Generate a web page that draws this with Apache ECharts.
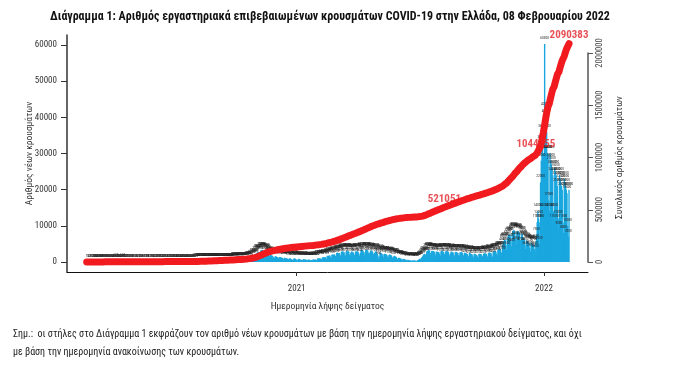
<!DOCTYPE html>
<html><head><meta charset="utf-8">
<script src="https://cdn.jsdelivr.net/npm/echarts@6/dist/echarts.min.js"></script>
<style>html,body{margin:0;padding:0;background:#fff}#c{width:695px;height:375px}</style>
</head><body><div id="c"></div>
<script>
// ---- data ----
const monthStarts = ['2020-02-26','2020-03-01','2020-04-01','2020-05-01','2020-06-01','2020-07-01','2020-08-01','2020-09-01','2020-10-01','2020-11-01','2020-12-01',
  '2021-01-01','2021-02-01','2021-03-01','2021-04-01','2021-05-01','2021-06-01','2021-07-01','2021-08-01','2021-09-01','2021-10-01','2021-11-01','2021-12-01',
  '2022-01-01','2022-02-01'];
const dailyCases2020 = [
  [1,1,1,4],
  [2,3,5,10,12,15,20,18,25,30,35,40,45,55,60,70,75,80,85,90,80,85,95,90,75,70,80,70,65,60,55],
  [60,55,70,50,45,40,60,80,120,50,45,40,35,30,30,35,40,45,160,90,40,30,25,20,20,25,15,10,15,20],
  [10,15,10,8,6,10,12,10,8,5,6,10,12,10,15,20,10,8,6,5,8,10,12,10,15,10,8,6,10,12,15],
  [15,10,12,8,6,10,20,25,20,15,12,10,8,10,15,12,20,25,30,20,15,12,10,8,12,20,30,25,20,15],
  [20,25,30,25,20,15,30,40,45,35,30,25,20,30,35,40,45,30,25,30,40,45,35,30,40,50,60,55,45,50,60],
  [70,65,90,110,100,120,150,140,130,160,200,210,200,220,190,180,240,260,230,250,220,200,270,300,280,270,260,240,220,260,280],
  [290,300,280,250,220,260,300,320,330,300,310,250,230,300,350,340,330,320,280,240,300,360,380,370,360,320,280,340,400,420],
  [420,400,350,300,400,450,480,500,470,420,380,500,550,600,580,550,500,450,650,700,750,800,850,700,650,1000,1200,1400,1500,1600,1300],
  [1500,2300,2500,2600,2800,2700,2400,2200,3200,3300,3400,3300,3100,2600,2300,3000,2900,2700,2500,2300,1800,1600,2100,2000,1800,1700,1500,1200,1100,1500],
  [1600,1500,1400,1400,1100,900,1400,1300,1300,1200,1100,900,800,1200,1100,1100,1000,950,800,650,1000,950,950,800,500,600,700,1000,1000,900,800]
];
const dailyCases2021 = [
  [500,400,700,900,800,700,650,600,550,500,800,750,700,650,600,500,450,700,650,600,550,550,450,400,700,700,650,650,700,550,500],
  [1000,1000,1000,950,1000,800,700,1300,1200,1300,1300,1400,1100,900,1700,1600,1700,1800,1800,1400,1100,2000,2100,2000,2100,2100,1700,1400],
  [2500,2600,2500,2400,2500,2000,1600,2800,3000,2900,2800,2700,2100,1700,2900,3100,3000,3000,2800,2100,1700,2600,2900,2800,2700,2600,2000,1600,2900,3000,3000],
  [2900,2700,2100,1600,2500,3400,3300,3200,3100,2600,1900,2700,3400,3300,3300,3200,2500,1800,2600,3200,3100,3000,2900,2300,1700,2500,2900,2900,2700,2200],
  [1800,900,1500,2600,2500,2400,2300,1800,1300,2200,2300,2200,2100,2000,1500,1100,1900,2100,2000,1900,1800,1300,900,1500,1700,1600,1500,1400,1000,700,1100],
  [1200,1100,1000,900,700,500,900,800,750,700,650,500,350,600,550,500,480,450,350,250,450,420,400,380,400,300,250,500,550,650],
  [800,900,700,1100,1400,1600,1900,2200,2300,2000,1800,2900,3100,3200,3300,3200,2500,2000,3000,3100,2900,3000,2900,2300,1800,2800,2900,2800,2700,2700,2200],
  [1700,3000,3100,3000,2900,2800,2200,1600,2900,3100,3000,2900,2800,2100,1500,2400,2900,2800,2700,2600,2000,1500,2700,2800,2700,2600,2500,1900,1500,2600,2700],
  [2700,2600,2500,1900,1400,2600,2500,2400,2300,2200,1700,1200,2500,2400,2300,2200,2100,1600,1200,2300,2200,2100,2000,1900,1500,1100,2200,2300,2200,2100],
  [2100,1600,1200,2300,2400,2400,2300,2200,1700,1300,2500,2600,2600,2500,2400,1800,1400,2800,3000,3100,3000,2900,2300,1800,3300,3500,3600,3600,3500,2700,2100],
  [4800,5500,5900,6100,6000,4700,3500,6500,7200,7500,7600,7400,5800,4400,8000,8600,8800,8700,8400,6400,4900,8300,8600,8500,8300,8000,6100,4700,7600,7800],
  [6800,6600,6300,4800,3600,6000,5800,5600,5400,5100,3900,2900,5300,5200,5000,4900,4700,3600,2800,5500,7500,11000,14000,12000,5000,11000,22000,28000,33000,36000,30000]
];
const dailyCases2022 = [
  [14000,60300,42000,40000,36000,30000,30000,17000,14000,30000,28000,27000,26000,24000,14000,11000,26000,25000,24000,23000,21000,12000,9000,24000,23000,22000,21000,20000,11000,8000,23000],
  [22000,21000,20000,19000,10000,7000,20000]
];
const yearTickDates = ['2021-01-01','2022-01-01'];
const yearTickLabels = ['2021','2022'];
const leftTicks = {min:0, max:60000, step:10000};
const rightTicks = {min:0, max:2000000, step:500000};
const noteDates = ['2021-08-07','2021-12-20','2022-02-07'];
const noteValues = [521051, 1044155, 2090383];
const xStart = '2020-01-28', xEnd = '2022-03-07';

// ---- build ----
const DAY = 86400000;
function ts(s){ const p = s.split('-').map(Number); return Date.UTC(p[0], p[1]-1, p[2]); }
const months = dailyCases2020.concat(dailyCases2021, dailyCases2022);
const barData = [], cumData = [];
let cum = 0;
months.forEach((vals, mi) => {
  const t0 = ts(monthStarts[mi]);
  vals.forEach((v, i) => { const t = t0 + i*DAY; cum += v; barData.push([t, v]); cumData.push([t, cum]); });
});
const noteData = noteDates.map((d, i) => [ts(d), noteValues[i]]);
const tickVals = yearTickDates.map(ts);

const FONT = "'Liberation Sans Narrow', 'Roboto Condensed', 'Roboto', sans-serif";
const G = {left:67, right:107};
const xMin = ts(xStart), xMax = ts(xEnd);
const plain = (v) => String(v);

const chart = echarts.init(document.getElementById('c'), null, {renderer:'canvas'});
chart.setOption({
  animation:false,
  backgroundColor:'#fff',
  textStyle:{fontFamily:FONT},
  graphic:[
    {type:'text', x:330, y:17, style:{text:'Διάγραμμα 1: Αριθμός εργαστηριακά επιβεβαιωμένων κρουσμάτων COVID-19 στην Ελλάδα, 08 Φεβρουαρίου 2022',
      fill:'#111', font:"bold 12px " + FONT, textAlign:'center', textVerticalAlign:'middle'}},
    {type:'text', x:13, y:334, style:{text:'Σημ.:  οι στήλες στο Διάγραμμα 1 εκφράζουν τον αριθμό νέων κρουσμάτων με βάση την ημερομηνία λήψης εργαστηριακού δείγματος, και όχι',
      fill:'#222', font:"10px " + FONT, textAlign:'left', textVerticalAlign:'middle'}},
    {type:'text', x:13, y:352, style:{text:'με βάση την ημερομηνία ανακοίνωσης των κρουσμάτων.',
      fill:'#222', font:"10px " + FONT, textAlign:'left', textVerticalAlign:'middle'}}
  ],
  grid:[
    {left:G.left, right:G.right, top:35, bottom:103},
    {left:G.left, right:G.right, top:45, bottom:113},
    {left:G.left, right:G.right, top:53, bottom:113}
  ],
  xAxis:[
    {gridIndex:0, type:'value', min:xMin, max:xMax,
      axisLine:{show:true, lineStyle:{color:'#111', width:1}},
      axisTick:{show:true, length:4, customValues:tickVals, lineStyle:{color:'#333'}},
      axisLabel:{show:true, customValues:tickVals, margin:12, fontSize:9, color:'#333', fontFamily:FONT,
        formatter:(v)=>{ const k = tickVals.indexOf(v); return k >= 0 ? yearTickLabels[k] : ''; }},
      splitLine:{show:false},
      name:'Ημερομηνία λήψης δείγματος', nameLocation:'middle', nameGap:30, nameMoveOverlap:false,
      nameTextStyle:{fontSize:9.5, color:'#333', fontFamily:FONT}},
    {gridIndex:1, type:'value', min:xMin, max:xMax, show:false},
    {gridIndex:2, type:'value', min:xMin, max:xMax, show:false}
  ],
  yAxis:[
    {gridIndex:0, type:'value', min:0, max:1, position:'left',
      axisLine:{show:true, lineStyle:{color:'#333', width:1.5}},
      axisTick:{show:false}, axisLabel:{show:false}, splitLine:{show:false}},
    {gridIndex:1, type:'value', min:leftTicks.min, max:leftTicks.max, interval:leftTicks.step, position:'left',
      axisLine:{show:false},
      axisTick:{show:true, length:6, lineStyle:{color:'#333'}},
      axisLabel:{fontSize:9, color:'#333', margin:10, fontFamily:FONT, formatter:plain},
      splitLine:{show:false},
      name:'Αριθμός νέων κρουσμάτων', nameLocation:'middle', nameGap:32, nameRotate:90, nameMoveOverlap:false,
      nameTextStyle:{fontSize:9.5, color:'#333', fontFamily:FONT}},
    {gridIndex:2, type:'value', min:rightTicks.min, max:rightTicks.max, interval:rightTicks.step, position:'right',
      axisLine:{show:true, lineStyle:{color:'#555', width:1.5}},
      axisTick:{show:true, length:5, lineStyle:{color:'#555'}},
      axisLabel:{rotate:90, fontSize:8.5, color:'#444', margin:7, fontFamily:FONT, formatter:plain},
      splitLine:{show:false},
      name:'Συνολικός αριθμός κρουσμάτων', nameLocation:'middle', nameGap:27, nameRotate:90, nameMoveOverlap:false,
      nameTextStyle:{fontSize:9.5, color:'#333', fontFamily:FONT}}
  ],
  series:[
    {type:'bar', xAxisIndex:1, yAxisIndex:1, data:barData, barWidth:1.4, clip:false, z:2,
      itemStyle:{color:'#1aa7df'},
      label:{show:true, position:'top', distance:4, fontSize:3.5, color:'#222', fontFamily:FONT,
        formatter:(p)=>String(p.value[1])}},
    {type:'scatter', xAxisIndex:2, yAxisIndex:2, data:noteData, symbolSize:0, z:3, clip:false,
      label:{show:true, position:'top', distance:3, fontSize:11, fontWeight:'bold', color:'#e3262d', fontFamily:FONT,
        formatter:(p)=>String(p.value[1])}},
    {type:'line', xAxisIndex:2, yAxisIndex:2, data:cumData, showSymbol:false, clip:false, z:5, silent:true,
      lineStyle:{color:'#f01a1f', width:7, cap:'round', join:'round'}}
  ]
});
</script></body></html>
